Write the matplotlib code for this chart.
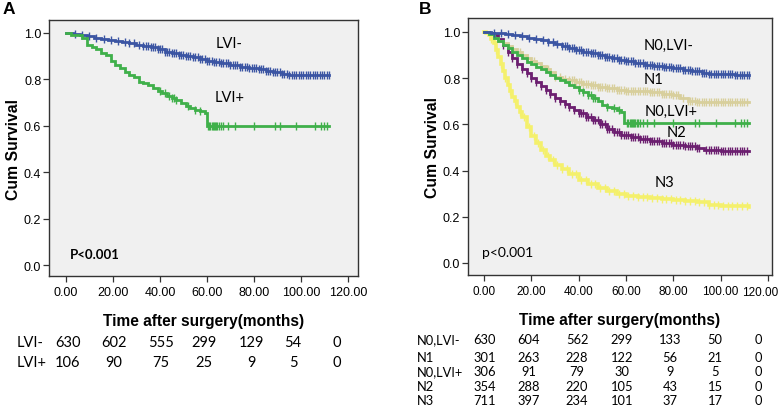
import numpy as np
import matplotlib
matplotlib.use("Agg")
import matplotlib.pyplot as plt

# ---------------- data ----------------
# Panel A
a_neg_t = [0, 3, 6, 9, 12, 15, 18, 21, 24, 27, 30, 33, 36, 39, 42, 45, 48, 51, 54, 57, 60, 63, 66, 70, 74, 78, 82, 85, 88, 92, 95, 100, 106, 112]
a_neg_s = [1.0, 0.995, 0.99, 0.985, 0.98, 0.975, 0.97, 0.965, 0.96, 0.955, 0.95, 0.945, 0.94, 0.93, 0.92, 0.915, 0.905, 0.90, 0.895, 0.89, 0.88, 0.875, 0.87, 0.86, 0.855, 0.85, 0.845, 0.835, 0.83, 0.825, 0.82, 0.82, 0.818, 0.818]
a_neg_cens = [4, 7, 10, 13, 16, 19, 22, 25, 27, 29, 31, 33, 34, 35, 36, 37, 38, 39, 40, 41, 42, 43, 44, 45, 46, 47, 48, 49, 50, 51, 52, 53, 54, 55, 56, 57, 58, 59, 60, 61, 62, 63, 64, 65, 66, 67, 68, 69, 70, 71, 72, 73, 74, 75, 76, 77, 78, 79, 80, 81, 82, 83, 84, 85, 86, 87, 88, 89, 90, 91, 92, 93, 94, 95, 96, 97, 98, 99, 100, 101, 102, 103, 104, 105, 106, 107, 108, 109, 110, 111, 112]

a_pos_t = [0, 2, 7, 9, 11, 13, 15, 17, 19, 21, 23, 25, 27, 29, 31, 33, 35, 37, 39, 41, 43, 45, 47, 49, 51, 53, 55, 57, 59, 60, 112]
a_pos_s = [1.0, 0.99, 0.98, 0.95, 0.94, 0.93, 0.915, 0.905, 0.88, 0.86, 0.85, 0.83, 0.82, 0.81, 0.79, 0.785, 0.775, 0.765, 0.75, 0.74, 0.73, 0.72, 0.71, 0.70, 0.685, 0.675, 0.67, 0.665, 0.655, 0.60, 0.60]
a_pos_cens = [40, 42, 44, 45, 46, 47, 52, 55, 57, 60.5, 61, 61.5, 62, 62.5, 63, 63.5, 64, 64.5, 65, 66, 67, 69, 72, 80, 89, 91, 98, 106, 108.5, 110, 111]

a_labels = ["LVI-", "LVI+"]
a_risk = [[630, 602, 555, 299, 129, 54, 0],
          [106, 90, 75, 25, 9, 5, 0]]

# Panel B
b_n0neg_t = [0, 3, 6, 9, 12, 15, 18, 21, 24, 27, 30, 33, 36, 39, 42, 45, 48, 51, 54, 57, 60, 64, 68, 72, 76, 80, 84, 88, 92, 95, 100, 106, 112]
b_n0neg_s = [1.0, 0.997, 0.993, 0.99, 0.986, 0.98, 0.975, 0.97, 0.963, 0.955, 0.948, 0.94, 0.932, 0.922, 0.915, 0.907, 0.9, 0.893, 0.885, 0.878, 0.872, 0.865, 0.858, 0.853, 0.847, 0.842, 0.836, 0.83, 0.823, 0.818, 0.818, 0.815, 0.815]
b_n0neg_cens = [4, 7, 10, 13, 16, 19, 22, 25, 27, 29, 31, 33, 34, 35, 36, 37, 38, 39, 40, 41, 42, 43, 44, 45, 46, 47, 48, 49, 50, 51, 52, 53, 54, 55, 56, 57, 58, 59, 60, 61, 62, 63, 64, 65, 66, 67, 68, 69, 70, 71, 72, 73, 74, 75, 76, 77, 78, 79, 80, 81, 82, 83, 84, 85, 86, 87, 88, 89, 90, 91, 92, 93, 94, 95, 96, 97, 98, 99, 100, 101, 102, 103, 104, 105, 106, 107, 108, 109, 110, 111, 112]

b_n1_t = [0, 2, 4, 6, 8, 10, 12, 14, 16, 18, 20, 22, 24, 26, 28, 30, 33, 36, 39, 42, 45, 48, 52, 56, 60, 65, 70, 75, 80, 83, 86, 90, 96, 104, 112]
b_n1_s = [1.0, 0.99, 0.975, 0.96, 0.95, 0.94, 0.925, 0.912, 0.9, 0.888, 0.875, 0.865, 0.853, 0.84, 0.825, 0.805, 0.795, 0.79, 0.785, 0.775, 0.768, 0.762, 0.755, 0.75, 0.745, 0.742, 0.738, 0.733, 0.725, 0.715, 0.703, 0.698, 0.695, 0.695, 0.695]
b_n1_cens = [12, 15, 18, 21, 24, 27, 30, 32, 34, 36, 37, 38, 39, 40, 41, 42, 43, 44, 45, 46, 47, 48, 49, 50, 51, 52, 53, 54, 55, 56, 57, 58, 59, 60, 61, 62, 63, 64, 65, 66, 67, 68, 69, 70, 71, 72, 73, 74, 75, 76, 77, 78, 79, 80, 81, 82, 84, 86, 87, 88, 89, 90, 91, 92, 93, 94, 95, 96, 97, 98, 99, 100, 101, 102, 103, 104, 105, 106, 107, 108, 109, 110, 111]

b_n0pos_t = [0, 2, 4, 6, 8, 10, 12, 14, 16, 18, 20, 22, 24, 26, 28, 30, 32, 34, 36, 38, 40, 42, 44, 46, 48, 50, 52, 54, 56, 58, 59, 112]
b_n0pos_s = [1.0, 0.99, 0.975, 0.96, 0.945, 0.93, 0.915, 0.9, 0.885, 0.87, 0.86, 0.85, 0.84, 0.828, 0.815, 0.8, 0.79, 0.782, 0.77, 0.76, 0.75, 0.74, 0.725, 0.715, 0.7, 0.685, 0.675, 0.67, 0.66, 0.655, 0.605, 0.605]
b_n0pos_cens = [40, 42, 44, 45, 46, 47, 52, 55, 57, 60.5, 61, 61.5, 62, 62.5, 63, 63.5, 64, 64.5, 65, 66, 67, 69, 72, 80, 89, 91, 98, 106, 108.5, 110, 111]

b_n2_t = [0, 2, 4, 6, 8, 10, 12, 14, 16, 18, 20, 22, 24, 26, 28, 30, 32, 34, 36, 38, 40, 43, 46, 49, 52, 55, 58, 62, 66, 70, 75, 80, 85, 90, 93, 100, 112]
b_n2_s = [1.0, 0.995, 0.987, 0.97, 0.944, 0.915, 0.885, 0.86, 0.84, 0.82, 0.8, 0.783, 0.765, 0.748, 0.73, 0.712, 0.7, 0.688, 0.675, 0.66, 0.648, 0.632, 0.618, 0.6, 0.58, 0.565, 0.555, 0.543, 0.535, 0.528, 0.52, 0.512, 0.505, 0.498, 0.487, 0.485, 0.485]
b_n2_cens = [8, 10, 12, 14, 16, 18, 20, 22, 24, 26, 28, 30, 32, 34, 36, 38, 40, 41, 42, 43, 44, 45, 46, 47, 48, 49, 50, 51, 52, 53, 54, 55, 56, 57, 58, 59, 60, 61, 62, 63, 64, 65, 66, 67, 68, 69, 70, 71, 72, 73, 74, 75, 76, 77, 78, 79, 80, 81, 82, 83, 84, 85, 86, 87, 88, 89, 90, 91, 94, 95, 96, 97, 98, 99, 100, 101, 102, 103, 104, 105, 106, 107, 108, 109, 110, 111]

b_n3_t = [0, 1, 2, 3, 4, 5, 6, 7, 8, 9, 10, 11, 12, 13, 14, 15, 16, 18, 20, 22, 24, 26, 28, 30, 33, 36, 40, 44, 48, 52, 56, 60, 65, 70, 75, 80, 85, 90, 95, 100, 106, 112]
b_n3_s = [1.0, 0.995, 0.985, 0.97, 0.95, 0.92, 0.89, 0.86, 0.83, 0.8, 0.77, 0.745, 0.72, 0.7, 0.675, 0.655, 0.63, 0.59, 0.55, 0.52, 0.49, 0.465, 0.445, 0.425, 0.405, 0.385, 0.36, 0.34, 0.325, 0.31, 0.3, 0.29, 0.285, 0.283, 0.278, 0.273, 0.268, 0.262, 0.252, 0.247, 0.245, 0.243]
b_n3_cens = [3, 5, 7, 9, 11, 13, 15, 17, 19, 21, 23, 25, 27, 29, 31, 33, 35, 37, 39, 41, 43, 45, 47, 49, 51, 53, 55, 57, 59, 61, 63, 65, 67, 69, 71, 73, 75, 77, 79, 81, 83, 85, 87, 89, 91, 93, 95, 97, 99, 101, 103, 105, 107, 109, 111]

b_labels = ["N0,LVI-", "N1", "N0,LVI+", "N2", "N3"]
b_risk = [[630, 604, 562, 299, 133, 50, 0],
          [301, 263, 228, 122, 56, 21, 0],
          [306, 91, 79, 30, 9, 5, 0],
          [354, 288, 220, 105, 43, 15, 0],
          [711, 397, 234, 101, 37, 17, 0]]

xticks = [0, 20, 40, 60, 80, 100, 120]
yticks = [0.0, 0.2, 0.4, 0.6, 0.8, 1.0]

# ---------------- style ----------------
W, H = 778, 410
fig = plt.figure(figsize=(W / 100, H / 100), dpi=100)
fig.patch.set_facecolor("white")

BLUE = "#3b55a3"
GREEN = "#3fb04a"
TAN = "#d8cf9c"
PURPLE = "#6c1f70"
YELLOW = "#f4f06c"
TICKFONT = "Liberation Sans"
TXTFONT = "Lato"


def px_axes(l, t, r, b):
    return fig.add_axes([l / W, 1 - b / H, (r - l) / W, (b - t) / H])


def km(ax, t, s, cens, color, lw=2.0, ms=6.0):
    t = np.asarray(t, float)
    s = np.asarray(s, float)
    ax.plot(t, s, drawstyle="steps-post", color=color, lw=lw, solid_joinstyle="miter", zorder=3)
    c = np.asarray(cens, float)
    idx = np.searchsorted(t, c, side="right") - 1
    ax.plot(c, s[idx], linestyle="none", marker="|", color=color, ms=ms, mew=1.0, zorder=3)


def style_axes(ax, xlim, ylim, xlabels, xfs):
    ax.set_facecolor("#f0f0f0")
    ax.set_xlim(*xlim)
    ax.set_ylim(*ylim)
    ax.set_xticks(xticks)
    ax.set_xticklabels(xlabels, fontfamily=TICKFONT, fontsize=xfs)
    ax.set_yticks(yticks)
    ax.set_yticklabels([f"{v:.1f}" for v in yticks], fontfamily=TICKFONT, fontsize=9)
    ax.tick_params(direction="out", length=4.5, width=0.9, color="#333333", pad=2.5)
    ax.tick_params(axis="y", pad=1)
    for sp in ax.spines.values():
        sp.set_color("#333333")
        sp.set_linewidth(1.0)
    ax.set_ylabel("Cum Survival", fontfamily=TICKFONT, fontweight="bold", fontsize=11.3, labelpad=2)
    ax.set_xlabel("Time after surgery(months)", fontfamily=TICKFONT, fontweight="bold", fontsize=11.2, labelpad=11)


def ftext(x, y, s, **kw):
    fig.text(x / W, 1 - y / H, s, **kw)


fmt_x = [f"{v:.2f}" for v in xticks]

# ---------------- Panel A ----------------
axA = px_axes(49, 21, 358, 277)
style_axes(axA, (-7.2, 124.3), (-0.047, 1.056), fmt_x, 9)
km(axA, a_neg_t, a_neg_s, a_neg_cens, BLUE)
km(axA, a_pos_t, a_pos_s, a_pos_cens, GREEN)
axA.text(69.5, 0.955, a_labels[0], fontfamily=TXTFONT, fontsize=10.5, ha="center", va="center")
axA.text(69.5, 0.723, a_labels[1], fontfamily=TXTFONT, fontsize=10.5, ha="center", va="center")
axA.text(1.5, 0.048, "P<0.001", fontfamily=TXTFONT, fontweight="bold", fontsize=9.5, ha="left", va="center")
ftext(9, 9, "A", fontfamily=TICKFONT, fontweight="bold", fontsize=12.5, ha="center", va="center")

colsA = [68, 114, 161, 204, 251, 293, 337]
rowsA = [343, 363]
for lab, row, y in zip(a_labels, a_risk, rowsA):
    ftext(17, y, lab, fontfamily=TXTFONT, fontsize=10.5, ha="left", va="center")
    for x, v in zip(colsA, row):
        ftext(x, y, str(v), fontfamily=TXTFONT, fontsize=10.5, ha="center", va="center")

# ---------------- Panel B ----------------
axB = px_axes(468, 19, 772, 276)
# last tick label drawn separately so it stays inside the figure
style_axes(axB, (-6.8, 121.7), (-0.052, 1.06), fmt_x[:-1] + [""], 8.5)
ftext(778, 293, fmt_x[-1], fontfamily=TICKFONT, fontsize=8.5, ha="right", va="center")
km(axB, b_n3_t, b_n3_s, b_n3_cens, YELLOW, lw=2.6)
km(axB, b_n2_t, b_n2_s, b_n2_cens, PURPLE)
km(axB, b_n1_t, b_n1_s, b_n1_cens, TAN)
km(axB, b_n0pos_t, b_n0pos_s, b_n0pos_cens, GREEN)
km(axB, b_n0neg_t, b_n0neg_s, b_n0neg_cens, BLUE)
lab_pos = [(78.1, 0.944), (71.7, 0.797), (78.9, 0.658), (81.4, 0.567), (76.3, 0.351)]
for lab, (x, y) in zip(b_labels, lab_pos):
    axB.text(x, y, lab, fontfamily=TXTFONT, fontsize=10.5, ha="center", va="center")
axB.text(-1.0, 0.048, "p<0.001", fontfamily=TXTFONT, fontsize=10, ha="left", va="center")
ftext(425, 10, "B", fontfamily=TICKFONT, fontweight="bold", fontsize=12.5, ha="center", va="center")

colsB = [485, 529, 577, 622, 670, 715, 758]
rowsB = [340, 357.7, 372, 387, 401]
for lab, row, y in zip(b_labels, b_risk, rowsB):
    ftext(417, y, lab, fontfamily=TXTFONT, fontsize=9.3, ha="left", va="center")
    for x, v in zip(colsB, row):
        ftext(x, y, str(v), fontfamily=TXTFONT, fontsize=9.3, ha="center", va="center")

fig.savefig("out.png", dpi=100, facecolor="white")
